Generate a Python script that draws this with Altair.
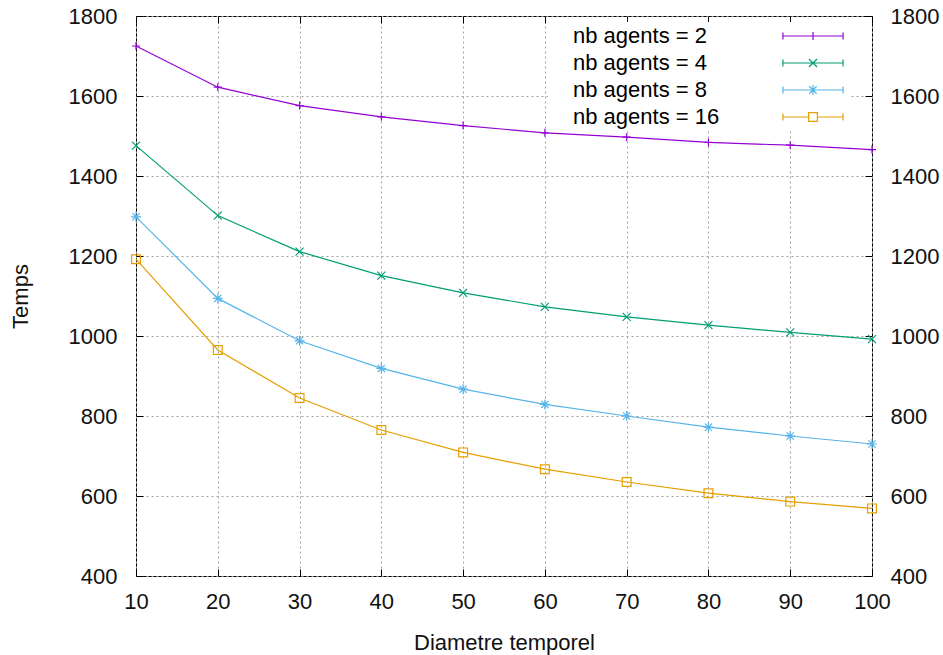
import altair as alt
import pandas as pd

# ---- data ----
diametre = [10, 20, 30, 40, 50, 60, 70, 80, 90, 100]
series_names = ["nb agents = 2", "nb agents = 4", "nb agents = 8", "nb agents = 16"]
temps_2 = [1725, 1622, 1576, 1548, 1526, 1508, 1497, 1484, 1477, 1466]
temps_4 = [1476, 1301, 1211, 1151, 1108, 1073, 1048, 1027, 1009, 992]
temps_8 = [1298, 1094, 988, 919, 867, 829, 800, 772, 750, 730]
temps_16 = [1192, 965, 845, 765, 709, 667, 635, 607, 586, 569]
x_ticks = [10, 20, 30, 40, 50, 60, 70, 80, 90, 100]
y_ticks = [400, 600, 800, 1000, 1200, 1400, 1600, 1800]

colors = ["#9400d3", "#009e73", "#56b4e9", "#e69f00"]

rows = []
for name, vals in zip(series_names, [temps_2, temps_4, temps_8, temps_16]):
    for xv, yv in zip(diametre, vals):
        rows.append({"diametre": xv, "temps": yv, "serie": name})
df = pd.DataFrame(rows)

FONT = "Liberation Sans"
FS = 22
W, H = 736, 560

marker_paths = [
    "M-1,0H1M0,-1V1",
    "M-1,-1L1,1M-1,1L1,-1",
    "M-1.25,0H1.25M0,-1.25V1.25M-0.9,-0.9L0.9,0.9M-0.9,0.9L0.9,-0.9",
    "M-1.1,-1.1H1.1V1.1H-1.1Z",
]
# legend sample paths, unit = half the sample length
cap = "M-0.97,0H0.97M-0.97,-0.11V0.11M0.97,-0.11V0.11"
legend_paths = [
    cap + "M0,-0.13V0.13",
    cap + "M-0.13,-0.13L0.13,0.13M-0.13,0.13L0.13,-0.13",
    cap + "M0,-0.16V0.16M-0.12,-0.12L0.12,0.12M-0.12,0.12L0.12,-0.12",
    "M-0.97,0H-0.14M0.14,0H0.97M-0.97,-0.11V0.11M0.97,-0.11V0.11M-0.14,-0.14H0.14V0.14H-0.14Z",
]


def xs():
    return alt.Scale(domain=[10, 100], nice=False, zero=False)


def ys():
    return alt.Scale(domain=[400, 1800], nice=False, zero=False)


color_scale = alt.Scale(domain=series_names, range=colors)
base = alt.Chart(df)

# grid layer + lines
grid_x = alt.Axis(orient="bottom", values=x_ticks, grid=True, gridColor="#a0a0a0",
                  gridDash=[2, 3], gridWidth=1, labels=False, ticks=False, domain=False)
grid_y = alt.Axis(orient="left", values=y_ticks, grid=True, gridColor="#a0a0a0",
                  gridDash=[2, 3], gridWidth=1, labels=False, ticks=False, domain=False)
lines = base.mark_line(strokeWidth=1.2).encode(
    x=alt.X("diametre:Q", scale=xs(), axis=grid_x, title=None),
    y=alt.Y("temps:Q", scale=ys(), axis=grid_y, title=None),
    color=alt.Color("serie:N", scale=color_scale, legend=None),
)

# markers + main axes (inward ticks)
ax_x = alt.Axis(orient="bottom", values=x_ticks, format="d", grid=False, domain=False,
                tickSize=7, offset=-7, labelPadding=15, labelFlush=False, titlePadding=20)
ax_y = alt.Axis(orient="left", values=y_ticks, format="d", grid=False, domain=False,
                tickSize=7, offset=-7, labelPadding=19, labelFlush=False, titlePadding=36)
points = base.mark_point(filled=False, strokeWidth=1.2, size=64, opacity=1).encode(
    x=alt.X("diametre:Q", scale=xs(), axis=ax_x, title="Diametre temporel"),
    y=alt.Y("temps:Q", scale=ys(), axis=ax_y, title="Temps"),
    color=alt.Color("serie:N", scale=color_scale, legend=None),
    shape=alt.Shape("serie:N", scale=alt.Scale(domain=series_names, range=marker_paths), legend=None),
)

# legend B: the line samples, with a wide white box (drawn first)
leg_sym = dict(title=None, orient="none", legendX=432, legendY=6, fillColor="white",
               padding=3, clipHeight=22, rowPadding=5, labelOffset=0,
               labelFontSize=1, labelColor="transparent", labelLimit=1,
               symbolSize=3844, symbolStrokeWidth=1.2, symbolOpacity=1, symbolOffset=210)
legend_sym_layer = base.mark_point(filled=False, opacity=0).encode(
    x=alt.X("diametre:Q", scale=xs(), axis=None),
    y=alt.Y("temps:Q", scale=ys(), axis=None),
    color=alt.Color("serie:N", scale=color_scale, legend=alt.Legend(**leg_sym)),
    shape=alt.Shape("serie:N", scale=alt.Scale(domain=series_names, range=legend_paths),
                    legend=alt.Legend(**leg_sym)),
)

# legend A: the texts
leg_text = dict(title=None, orient="none", legendX=412, legendY=6, fillColor="white",
                padding=3, clipHeight=22, rowPadding=5, labelOffset=0,
                labelAlign="left", labelFont=FONT, labelFontSize=FS, labelColor="black",
                labelLimit=300, symbolSize=1, symbolOpacity=0)
legend_text_layer = base.mark_point(filled=False, opacity=0).encode(
    x=alt.X("diametre:Q", scale=xs(), axis=None),
    y=alt.Y("temps:Q", scale=ys(), axis=None),
    color=alt.Color("serie:N", scale=color_scale, legend=alt.Legend(**leg_text)),
)

# mirrored axes (top / right)
mirror = base.mark_point(opacity=0).encode(
    x=alt.X("diametre:Q", scale=xs(), title=None,
            axis=alt.Axis(orient="top", values=x_ticks, grid=False, domain=False,
                          labels=False, tickSize=7, offset=-7)),
    y=alt.Y("temps:Q", scale=ys(), title=None,
            axis=alt.Axis(orient="right", values=y_ticks, format="d", grid=False,
                          domain=False, tickSize=7, offset=-7, labelPadding=18,
                          labelFlush=False)),
)

chart = alt.layer(lines, points, legend_sym_layer, legend_text_layer, mirror).resolve_scale(
    x="independent", y="independent", color="independent", shape="independent"
).properties(
    width=W, height=H,
    autosize=alt.AutoSizeParams(type="none"),
    padding={"left": 136, "top": 16, "right": 71, "bottom": 79},
    background="white",
).configure_view(
    stroke="black", strokeWidth=1
).configure_axis(
    labelFont=FONT, labelFontSize=FS, labelColor="#111111",
    titleFont=FONT, titleFontSize=FS, titleFontWeight="normal", titleColor="#111111",
    tickColor="black", tickWidth=1,
)

chart.save("out.html", embed_options={"renderer": "svg", "actions": False})
